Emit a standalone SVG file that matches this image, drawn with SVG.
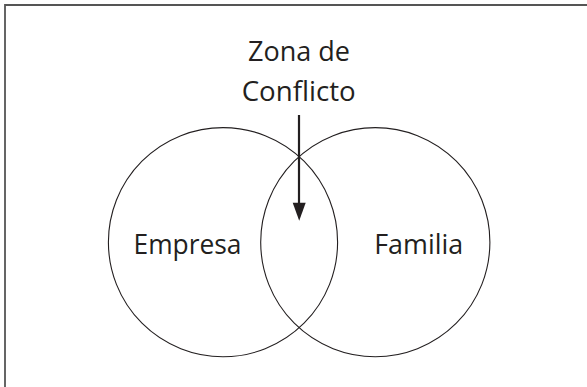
<svg xmlns="http://www.w3.org/2000/svg" width="587" height="387" viewBox="0 0 587 387">
<style>
.frame{stroke:#555;stroke-width:1.8;fill:none}
.circ{fill:none;stroke:#231f20;stroke-width:1.1}
.lbl{font-family:"Open Sans","Noto Sans",sans-serif;font-size:28px;fill:#231f20;text-anchor:middle}
.arr{stroke:#231f20;stroke-width:2.2;fill:none}
.head{fill:#231f20}
</style>
<g id="frame"><path class="frame" d="M5,387 V5 H587"/></g>
<g id="empresa"><circle class="circ" cx="223" cy="242.2" r="114.6"/><text class="lbl" x="187.5" y="254" textLength="108" lengthAdjust="spacingAndGlyphs">Empresa</text></g>
<g id="familia"><circle class="circ" cx="375.3" cy="242.2" r="114.6"/><text class="lbl" x="418.7" y="254" textLength="89" lengthAdjust="spacingAndGlyphs">Familia</text></g>
<g id="zona"><text class="lbl" x="299" y="61" textLength="102" lengthAdjust="spacingAndGlyphs">Zona de</text><text class="lbl" x="298.7" y="100.7" textLength="114" lengthAdjust="spacingAndGlyphs">Conflicto</text></g>
<g id="connectors"><line class="arr" x1="299" y1="115" x2="299" y2="205"/><path class="head" d="M292.7,202.7 L305.7,202.7 L299.2,220.7 Z"/></g>
</svg>
